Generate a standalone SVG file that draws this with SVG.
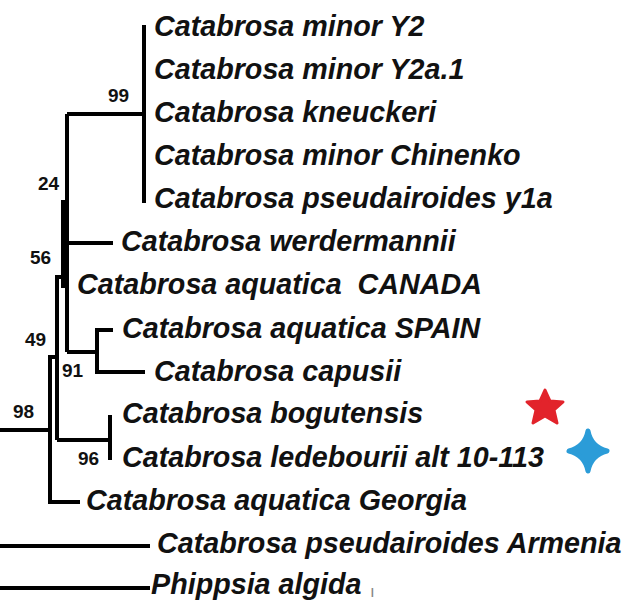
<svg xmlns="http://www.w3.org/2000/svg" width="634" height="606" viewBox="0 0 634 606">
<style>
.bg{fill:#ffffff}
.br{stroke:#000;stroke-width:4;fill:none;stroke-linecap:butt}
.lb{font-family:"Liberation Sans",Arial,sans-serif;font-size:28.7px;font-weight:bold;font-style:italic;fill:#111}
.bs{font-family:"Liberation Sans",Arial,sans-serif;font-size:19px;font-weight:bold;fill:#111}
</style>
<rect class="bg" x="0" y="0" width="634" height="606"/>
<g id="connectors">
<path class="br" d="M144,25 V203"/>
<path class="br" d="M67,114 H144"/>
<path class="br" d="M67,114 V352"/>
<path class="br" d="M67,243 H113"/>
<path class="br" d="M63,200 V288"/>
<path class="br" d="M63,277 H57 V440"/>
<path class="br" d="M57,357 H50 V502 H80"/>
<path class="br" d="M0,430 H50"/>
<path class="br" d="M67,352 H97"/>
<path class="br" d="M113,330 H97 V372 H145"/>
<path class="br" d="M57,440 H110"/>
<path class="br" d="M110,415 V460"/>
<path class="br" d="M0,546 H150"/>
<path class="br" d="M0,588 H150"/>
</g>
<g id="support">
<text class="bs" x="108" y="102">99</text>
<text class="bs" x="38" y="190">24</text>
<text class="bs" x="30" y="264">56</text>
<text class="bs" x="25" y="346">49</text>
<text class="bs" x="62" y="377">91</text>
<text class="bs" x="13" y="418">98</text>
<text class="bs" x="78" y="465">96</text>
</g>
<g id="n-minor-y2"><text class="lb" x="154" y="36">Catabrosa minor Y2</text></g>
<g id="n-minor-y2a1"><text class="lb" x="154" y="79">Catabrosa minor Y2a.1</text></g>
<g id="n-kneuckeri"><text class="lb" x="154" y="122">Catabrosa kneuckeri</text></g>
<g id="n-chinenko"><text class="lb" x="154" y="165">Catabrosa minor Chinenko</text></g>
<g id="n-pseud-y1a"><text class="lb" x="154" y="208">Catabrosa pseudairoides y1a</text></g>
<g id="n-werdermannii"><text class="lb" x="121" y="251">Catabrosa werdermannii</text></g>
<g id="n-canada"><text class="lb" x="77" y="294" xml:space="preserve">Catabrosa aquatica  CANADA</text></g>
<g id="n-spain"><text class="lb" x="122" y="338">Catabrosa aquatica SPAIN</text></g>
<g id="n-capusii"><text class="lb" x="154" y="381">Catabrosa capusii</text></g>
<g id="n-bogutensis"><text class="lb" x="122" y="423">Catabrosa bogutensis</text></g>
<g id="n-ledebourii"><text class="lb" x="122" y="467">Catabrosa ledebourii alt 10-113</text></g>
<g id="n-georgia"><text class="lb" x="86" y="510">Catabrosa aquatica Georgia</text></g>
<g id="n-armenia"><text class="lb" x="157" y="553">Catabrosa pseudairoides Armenia</text></g>
<g id="n-phippsia"><text class="lb" x="151" y="594">Phippsia algida</text><text x="370" y="597" font-family="Liberation Sans,sans-serif" font-size="17" fill="#888">ı</text></g>
<g id="star">
<path d="M545,390 L550,401 L563,402 L554,410 L557,423 L545,416 L533,423 L536,410 L527,402 L540,401 Z" fill="#e2232b" stroke="#e2232b" stroke-width="3" stroke-linejoin="round"/>
</g>
<g id="cross">
<path d="M588,431 Q591,447 607,451 Q591,455 588,471 Q585,455 569,451 Q585,447 588,431 Z" fill="#2b9cd8" stroke="#2b9cd8" stroke-width="5" stroke-linejoin="round"/>
</g>
</svg>
